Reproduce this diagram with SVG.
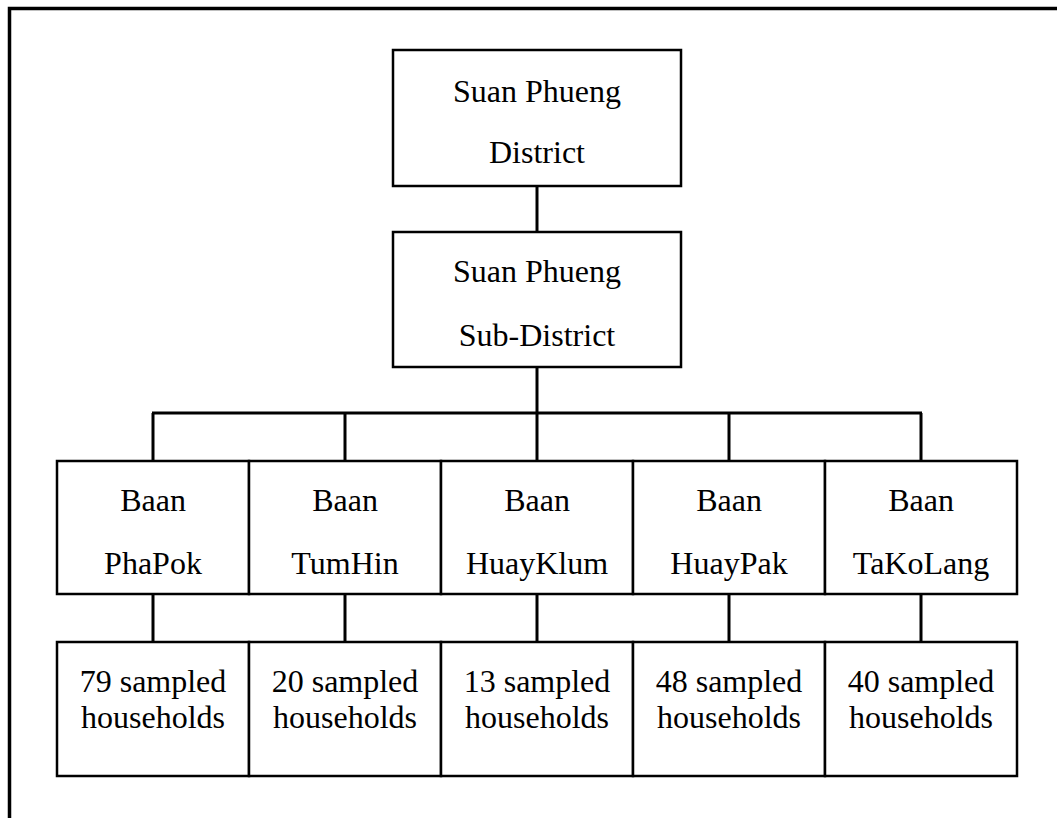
<svg xmlns="http://www.w3.org/2000/svg" width="1057" height="818" viewBox="0 0 1057 818">
<style>
.box{fill:#fff;stroke:#000;stroke-width:2.5}
.t{font-family:"Liberation Serif","Times New Roman",serif;font-size:32px;fill:#000;text-anchor:middle}
.c{stroke:#000;stroke-width:3;fill:none}
.frame{stroke:#000;stroke-width:3.5;fill:none}
</style>
<rect width="1057" height="818" fill="#fff"/>
<path class="frame" d="M9.5,818 V8.5 H1057"/>
<g id="connectors">
<path class="c" d="M537,186 V232"/>
<path class="c" d="M537,367 V413"/>
<path class="c" d="M152,413 H922"/>
<path class="c" d="M153,413 V461 M345,413 V461 M537,413 V461 M729,413 V461 M921,413 V461"/>
<path class="c" d="M153,594 V642 M345,594 V642 M537,594 V642 M729,594 V642 M921,594 V642"/>
</g>
<g id="district">
<rect class="box" x="393" y="50" width="288" height="136"/>
<text class="t" x="537" y="102">Suan Phueng</text>
<text class="t" x="537" y="163">District</text>
</g>
<g id="subdistrict">
<rect class="box" x="393" y="232" width="288" height="135"/>
<text class="t" x="537" y="282">Suan Phueng</text>
<text class="t" x="537" y="346">Sub-District</text>
</g>
<g id="phapok">
<rect class="box" x="57" y="461" width="192" height="133"/>
<text class="t" x="153" y="511">Baan</text>
<text class="t" x="153" y="574">PhaPok</text>
</g>
<g id="tumhin">
<rect class="box" x="249" y="461" width="192" height="133"/>
<text class="t" x="345" y="511">Baan</text>
<text class="t" x="345" y="574">TumHin</text>
</g>
<g id="huayklum">
<rect class="box" x="441" y="461" width="192" height="133"/>
<text class="t" x="537" y="511">Baan</text>
<text class="t" x="537" y="574">HuayKlum</text>
</g>
<g id="huaypak">
<rect class="box" x="633" y="461" width="192" height="133"/>
<text class="t" x="729" y="511">Baan</text>
<text class="t" x="729" y="574">HuayPak</text>
</g>
<g id="takolang">
<rect class="box" x="825" y="461" width="192" height="133"/>
<text class="t" x="921" y="511">Baan</text>
<text class="t" x="921" y="574">TaKoLang</text>
</g>
<g id="hh-phapok">
<rect class="box" x="57" y="642" width="192" height="134"/>
<text class="t" x="153" y="692">79 sampled</text>
<text class="t" x="153" y="728">households</text>
</g>
<g id="hh-tumhin">
<rect class="box" x="249" y="642" width="192" height="134"/>
<text class="t" x="345" y="692">20 sampled</text>
<text class="t" x="345" y="728">households</text>
</g>
<g id="hh-huayklum">
<rect class="box" x="441" y="642" width="192" height="134"/>
<text class="t" x="537" y="692">13 sampled</text>
<text class="t" x="537" y="728">households</text>
</g>
<g id="hh-huaypak">
<rect class="box" x="633" y="642" width="192" height="134"/>
<text class="t" x="729" y="692">48 sampled</text>
<text class="t" x="729" y="728">households</text>
</g>
<g id="hh-takolang">
<rect class="box" x="825" y="642" width="192" height="134"/>
<text class="t" x="921" y="692">40 sampled</text>
<text class="t" x="921" y="728">households</text>
</g>
</svg>
